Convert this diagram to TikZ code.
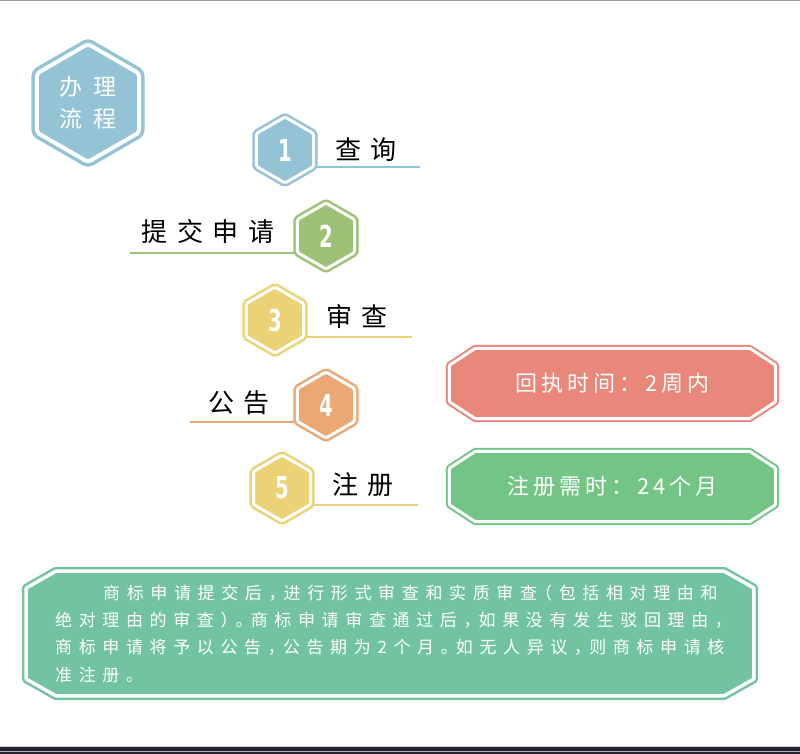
\documentclass[tikz,border=0pt]{standalone}
\usepackage{fontspec}
\usetikzlibrary{shapes.geometric,backgrounds}
\setmainfont{Noto Sans CJK SC}
\newfontfamily\numfont{DejaVu Sans Condensed}
\newcommand\hexnum[1]{\scalebox{0.78}[1.08]{#1}}
\definecolor{cblue}{HTML}{93C3D4}
\definecolor{cgreen}{HTML}{9DC276}
\definecolor{cyellow}{HTML}{ECD175}
\definecolor{corange}{HTML}{EAA874}
\definecolor{cred}{HTML}{E8877A}
\definecolor{cgbox}{HTML}{72C584}
\definecolor{cteal}{HTML}{72C3A0}
\definecolor{cgray}{HTML}{9A9AA2}
\definecolor{cdark}{HTML}{26222F}
\begin{document}
\begin{tikzpicture}[x=1pt,y=-1pt,
  numhex/.style={regular polygon, regular polygon sides=6, shape border rotate=30,
    minimum size=66pt, inner sep=0pt, draw=#1, fill=#1, line width=2.5pt,
    double=white, double distance=3pt, rounded corners=1.5pt, text=white,
    font=\numfont\bfseries\fontsize{28}{32}\selectfont},
  bighex/.style={regular polygon, regular polygon sides=6, shape border rotate=30,
    minimum size=118pt, inner sep=0pt, draw=#1, fill=#1, line width=3.5pt,
    double=white, double distance=4pt, rounded corners=3pt, text=white, align=center,
    font=\fontsize{23}{32}\selectfont\addfontfeatures{LetterSpace=45}},
  lbl/.style={text=black, inner sep=0pt, font=\fontsize{26}{30}\selectfont\addfontfeatures{LetterSpace=38}},
  uline/.style={draw=#1, line width=2pt},
  boxnode/.style={inner sep=0pt, text=white, font=\fontsize{22}{26}\selectfont\addfontfeatures{LetterSpace=18}},
  boxline/.style={draw=#1, fill=#1, line width=2pt, double=white, double distance=3pt, rounded corners=1pt},
  bodytxt/.style={inner sep=0pt, anchor=base west, text=white,
    font=\fontsize{17}{20}\selectfont\addfontfeatures{LetterSpace=39,RawFeature=+halt}}
]
\useasboundingbox (0,0) rectangle (800,754);
% top and bottom bands
\fill[cgray] (0,0) rectangle (800,1.4);
\fill[black!18] (0,745.6) rectangle (800,747.3);
\fill[cdark] (0,747.3) rectangle (800,750.7);
\fill[black!30] (0,750.7) rectangle (800,752);
\fill[cdark] (0,752) rectangle (800,754);

% title hexagon
\node[bighex=cblue] (title) at (88,103) {办理\\流程};

% numbered hexagons
\node[numhex=cblue]   (h1) at (285,150) {\hexnum{1}};
\node[numhex=cgreen]  (h2) at (326,236) {\hexnum{2}};
\node[numhex=cyellow] (h3) at (275,320) {\hexnum{3}};
\node[numhex=corange] (h4) at (326,405) {\hexnum{4}};
\node[numhex=cyellow] (h5) at (282,488) {\hexnum{5}};

% labels
\node[lbl] (t1) at (366,150) {查询};
\node[lbl] (t2) at (208,232) {提交申请};
\node[lbl] (t3) at (357,317) {审查};
\node[lbl] (t4) at (239,403) {公告};
\node[lbl] (t5) at (363,485) {注册};

% underline ends
\coordinate (e1) at (420,0);
\coordinate (e2) at (130,0);
\coordinate (e3) at (412,0);
\coordinate (e4) at (190,0);
\coordinate (e5) at (418,0);
\draw[uline=cblue]   (h1.-30) -- (h1.-30 -| e1);
\draw[uline=cgreen]  (h2.210) -- (h2.210 -| e2);
\draw[uline=cyellow] (h3.-30) -- (h3.-30 -| e3);
\draw[uline=corange] (h4.210) -- (h4.210 -| e4);
\draw[uline=cyellow] (h5.-30) -- (h5.-30 -| e5);

% right boxes
\node[boxnode, minimum width=326pt, minimum height=70pt] (r1) at (612.5,383.5) {回执时间：2周内};
\node[boxnode, minimum width=326pt, minimum height=70pt] (r2) at (612.5,486.5) {注册需时：24个月};
% bottom box
\node[inner sep=0pt, minimum width=727.5pt, minimum height=124.5pt] (b) at (390,633.5) {};

\begin{scope}[on background layer]
\foreach \n/\c in {r1/cred, r2/cgbox}{
  \draw[boxline=\c] ([xshift=26pt]\n.north west) -- ([xshift=-26pt]\n.north east)
    -- ([yshift=-17pt]\n.north east) -- ([yshift=17pt]\n.south east)
    -- ([xshift=-26pt]\n.south east) -- ([xshift=26pt]\n.south west)
    -- ([yshift=17pt]\n.south west) -- ([yshift=-17pt]\n.north west) -- cycle;
}
\draw[boxline=cteal, line width=2.5pt, double distance=3.5pt]
  ([xshift=30pt]b.north west) -- ([xshift=-30pt]b.north east)
    -- ([yshift=-17pt]b.north east) -- ([yshift=17pt]b.south east)
    -- ([xshift=-30pt]b.south east) -- ([xshift=30pt]b.south west)
    -- ([yshift=17pt]b.south west) -- ([yshift=-17pt]b.north west) -- cycle;
\end{scope}

\node[bodytxt] (l1) at (103,599) {商标申请提交后，进行形式审查和实质审查（包括相对理由和};
\node[bodytxt] (l2) at (55,626) {绝对理由的审查）。商标申请审查通过后，如果没有发生驳回理由，};
\node[bodytxt] (l3) at (55,653) {商标申请将予以公告，公告期为2个月。如无人异议，则商标申请核};
\node[bodytxt] (l4) at (55,681) {准注册。};
\end{tikzpicture}
\end{document}
